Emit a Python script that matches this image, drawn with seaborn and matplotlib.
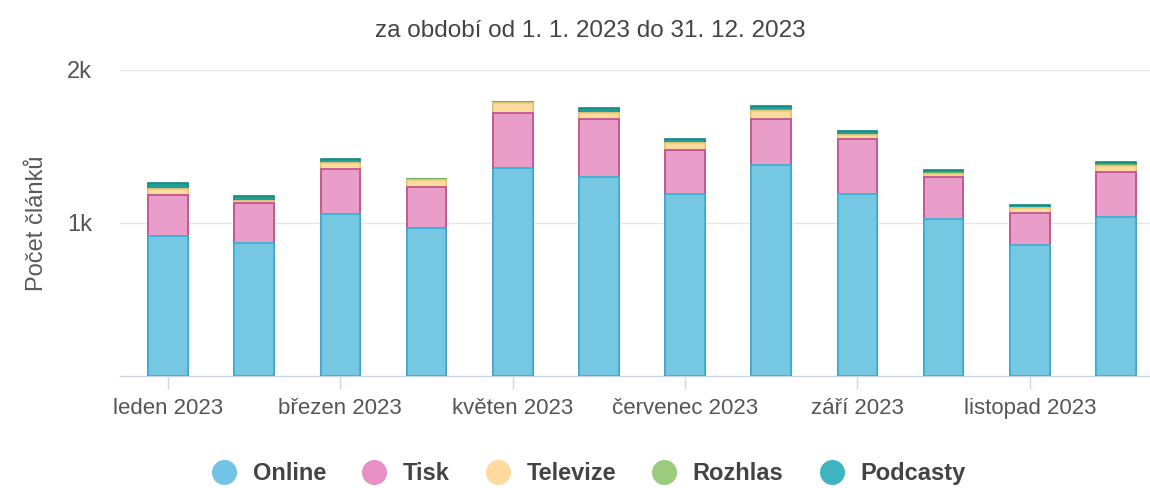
import numpy as np
import pandas as pd
import matplotlib
matplotlib.use("Agg")
import matplotlib.pyplot as plt
from matplotlib.lines import Line2D
import seaborn as sns

# Data
mesice = ["leden 2023", "únor 2023", "březen 2023", "duben 2023", "květen 2023", "červen 2023",
          "červenec 2023", "srpen 2023", "září 2023", "říjen 2023", "listopad 2023", "prosinec 2023"]
online = [918, 866, 1060, 970, 1362, 1300, 1191, 1377, 1191, 1028, 859, 1038]
tisk = [262, 262, 291, 262, 354, 378, 284, 302, 356, 275, 208, 297]
televize = [39, 15, 39, 52, 70, 39, 46, 54, 26, 15, 28, 37]
rozhlas = [5, 3, 4, 1, 2, 4, 3, 4, 5, 8, 3, 4]
podcasty = [35, 30, 26, 3, 3, 33, 26, 29, 24, 20, 22, 22]

serie = ["Online", "Tisk", "Televize", "Rozhlas", "Podcasty"]
barvy = {"Online": "#76c8e2", "Tisk": "#e99dc9", "Televize": "#fcdc9e",
         "Rozhlas": "#9ccd80", "Podcasty": "#1e9f9c"}
okraje = {"Online": "#2db3d6", "Tisk": "#c04a92", "Televize": "#f4c777",
          "Rozhlas": "#74b456", "Podcasty": "#14877f"}
legenda_barvy = {"Online": "#72c4e6", "Tisk": "#e78fc6", "Televize": "#fddb9f",
                 "Rozhlas": "#9bcb7d", "Podcasty": "#3db4c0"}

df = pd.DataFrame({"mesic": mesice, "Online": online, "Tisk": tisk, "Televize": televize,
                   "Rozhlas": rozhlas, "Podcasty": podcasty})
kum = df[serie].cumsum(axis=1)
kum["mesic"] = df["mesic"]

plt.rcParams["font.family"] = ["Liberation Sans", "DejaVu Sans"]

fig = plt.figure(figsize=(11.5, 4.88), dpi=100)
ax = fig.add_axes([0.1043, 0.2295, 0.8957, 0.6271])

# stacked bars: draw cumulative totals from top layer down
for s in reversed(serie):
    sns.barplot(data=kum, x="mesic", y=s, color=barvy[s], width=0.46,
                edgecolor=okraje[s], linewidth=1.2, saturation=1, ax=ax, zorder=3)

ax.set_xlim(-0.557, 11.394)
ax.set_ylim(0, 2000)
ax.set_yticks([1000, 2000])
ax.set_yticklabels(["1k", "2k"])
ax.yaxis.grid(True, color="#e6e6e6", linewidth=1)
ax.set_axisbelow(True)
ax.tick_params(axis="y", length=0, pad=20, labelsize=17, labelcolor="#555555")

ax.set_xticks(range(0, 12, 2))
ax.set_xticklabels(mesice[::2])
ax.tick_params(axis="x", length=9, width=1, color="#ccd6eb", labelsize=16,
               labelcolor="#555555", pad=7)

for sp in ["top", "right", "left"]:
    ax.spines[sp].set_visible(False)
ax.spines["bottom"].set_color("#ccd6eb")
ax.spines["bottom"].set_linewidth(1)

ax.set_xlabel("")
ax.set_ylabel("Počet článků", fontsize=17, color="#5a5a5a", labelpad=14)

fig.text(0.513, 0.937, "za období od 1. 1. 2023 do 31. 12. 2023", ha="center", va="center",
         fontsize=17.5, color="#444444")

handles = [Line2D([], [], marker="o", linestyle="", markersize=17,
                  markerfacecolor=legenda_barvy[s], markeredgecolor=legenda_barvy[s]) for s in serie]
leg = fig.legend(handles, serie, loc="center", bbox_to_anchor=(0.507, 0.03), ncol=5,
                 frameon=False, handletextpad=0.2, columnspacing=1.05,
                 prop={"size": 17, "weight": "bold"})
for t in leg.get_texts():
    t.set_color("#444444")

fig.savefig("out.png", dpi=100)
